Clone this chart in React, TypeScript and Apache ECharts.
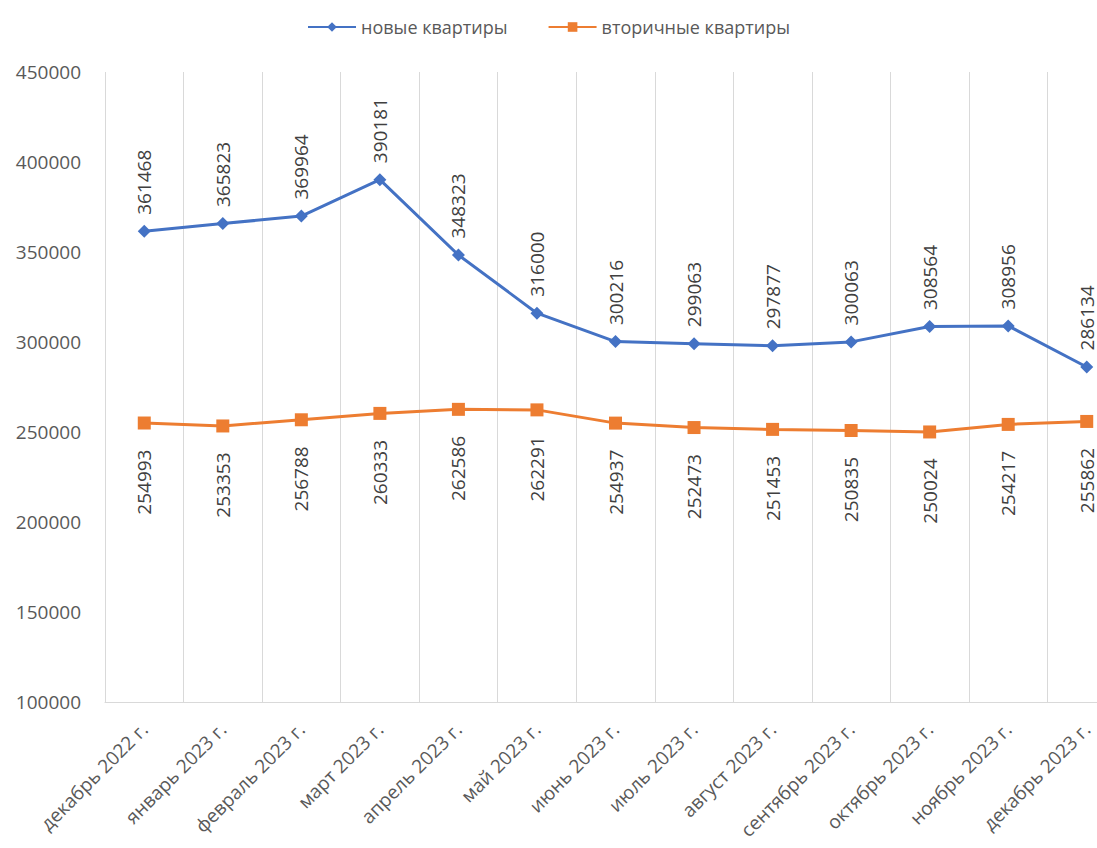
import React, { useEffect, useRef } from "react";
import * as echarts from "echarts";

const categories = [
  "декабрь 2022 г.",
  "январь 2023 г.",
  "февраль 2023 г.",
  "март 2023 г.",
  "апрель 2023 г.",
  "май 2023 г.",
  "июнь 2023 г.",
  "июль 2023 г.",
  "август 2023 г.",
  "сентябрь 2023 г.",
  "октябрь 2023 г.",
  "ноябрь 2023 г.",
  "декабрь 2023 г.",
];
const newFlats = [361468, 365823, 369964, 390181, 348323, 316000, 300216, 299063, 297877, 300063, 308564, 308956, 286134];
const secondaryFlats = [254993, 253353, 256788, 260333, 262586, 262291, 254937, 252473, 251453, 250835, 250024, 254217, 255862];
const seriesNames = ["новые квартиры", "вторичные квартиры"];

const FONT = "'Open Sans', sans-serif";

export default function App() {
  const ref = useRef<HTMLDivElement>(null);
  useEffect(() => {
    if (!ref.current) return;
    const chart = echarts.init(ref.current, undefined, { renderer: "svg" });
    chart.setOption({
      animation: false,
      backgroundColor: "#ffffff",
      legend: {
        top: 13,
        left: "center",
        itemWidth: 48,
        itemHeight: 12,
        itemGap: 40,
        textStyle: { color: "#595959", fontSize: 18, fontFamily: FONT },
        data: seriesNames,
      },
      grid: {
        left: 105,
        top: 72,
        bottom: 146,
        right: -29,
        containLabel: false,
        outerBoundsMode: "none",
      },
      xAxis: {
        type: "category",
        data: categories,
        boundaryGap: true,
        axisLine: { show: true, lineStyle: { color: "#d9d9d9", width: 1 } },
        axisTick: { show: false },
        splitLine: { show: true, lineStyle: { color: "#d9d9d9", width: 1 } },
        axisLabel: {
          rotate: 45,
          interval: 0,
          margin: 24,
          color: "#595959",
          fontSize: 19,
          fontFamily: FONT,
        },
      },
      yAxis: {
        type: "value",
        min: 100000,
        max: 450000,
        interval: 50000,
        axisLine: { show: false },
        axisTick: { show: false },
        splitLine: { show: false },
        axisLabel: {
          color: "#595959",
          fontSize: 19,
          fontFamily: FONT,
          margin: 24,
          formatter: (v: number) => String(v),
        },
      },
      series: [
        {
          name: seriesNames[0],
          type: "line",
          data: newFlats,
          color: "#4472C4",
          lineStyle: { width: 3, color: "#4472C4" },
          symbol: "diamond",
          symbolSize: 13,
          itemStyle: { color: "#4472C4" },
          label: {
            show: true,
            position: "top",
            rotate: 90,
            align: "left",
            verticalAlign: "middle",
            distance: 10,
            color: "#404040",
            fontSize: 19,
            lineHeight: 18,
            fontFamily: FONT,
          },
        },
        {
          name: seriesNames[1],
          type: "line",
          data: secondaryFlats,
          color: "#ED7D31",
          lineStyle: { width: 3, color: "#ED7D31" },
          symbol: "rect",
          symbolSize: 13,
          itemStyle: { color: "#ED7D31" },
          label: {
            show: true,
            position: "bottom",
            rotate: 90,
            align: "right",
            verticalAlign: "middle",
            distance: 20,
            color: "#404040",
            fontSize: 19,
            lineHeight: 18,
            fontFamily: FONT,
          },
        },
      ],
    });
    return () => chart.dispose();
  }, []);
  return (
    <div
      ref={ref}
      style={{ position: "absolute", left: 0, top: 0, width: 1097, height: 848, overflow: "hidden" }}
    />
  );
}
